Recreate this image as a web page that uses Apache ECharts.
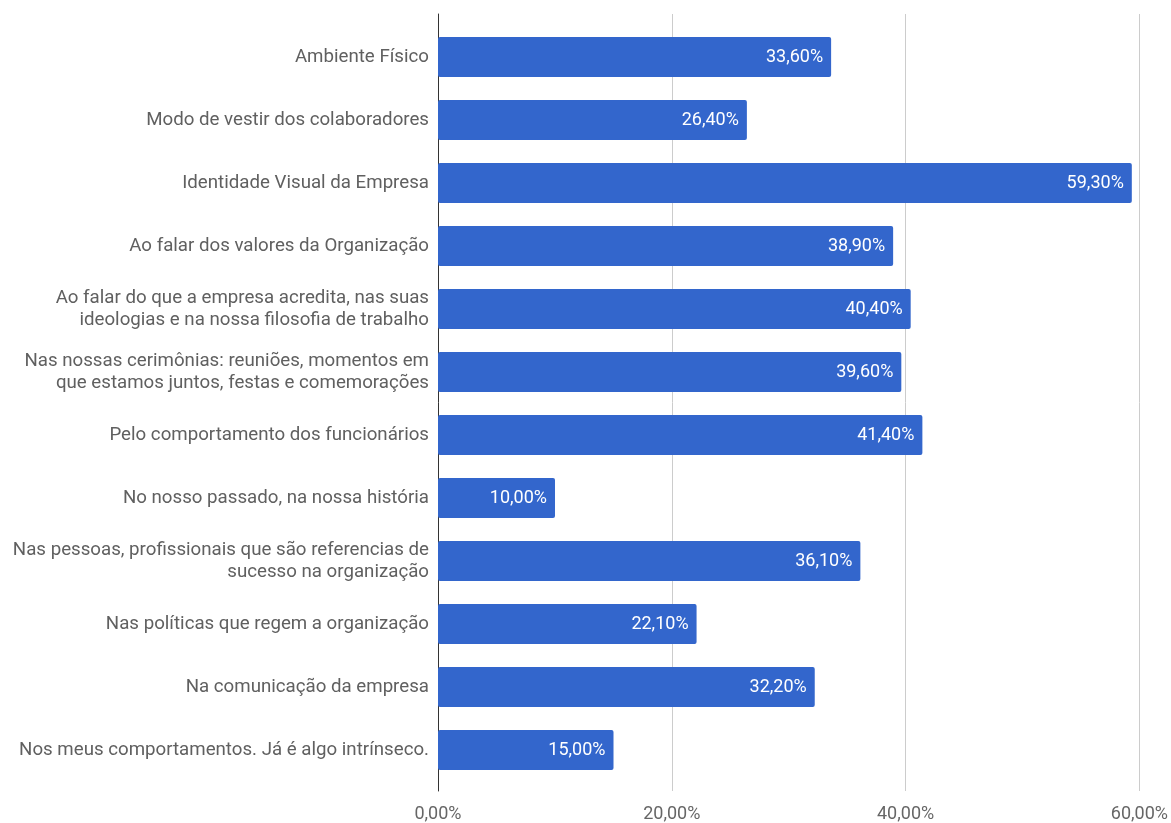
<!DOCTYPE html>
<html>
<head>
<meta charset="utf-8">
<script src="https://cdn.jsdelivr.net/npm/echarts@6/dist/echarts.min.js"></script>
<style>
  html, body { margin: 0; padding: 0; background: #fff; }
  #chart { width: 1171px; height: 823px; }
</style>
</head>
<body>
<div id="chart"></div>
<script>
// Categories, top to bottom
const categories = [
  'Ambiente Físico',
  'Modo de vestir dos colaboradores',
  'Identidade Visual da Empresa',
  'Ao falar dos valores da Organização',
  'Ao falar do que a empresa acredita, nas suas\nideologias e na nossa filosofia de trabalho',
  'Nas nossas cerimônias: reuniões, momentos em\nque estamos juntos, festas e comemorações',
  'Pelo comportamento dos funcionários',
  'No nosso passado, na nossa história',
  'Nas pessoas, profissionais que são referencias de\nsucesso na organização',
  'Nas políticas que regem a organização',
  'Na comunicação da empresa',
  'Nos meus comportamentos. Já é algo intrínseco.'
];

// Share of answers (%)
const values = [33.6, 26.4, 59.3, 38.9, 40.4, 39.6, 41.4, 10.0, 36.1, 22.1, 32.2, 15.0];

// X axis ticks (%)
const xTicks = [0, 20, 40, 60];

const fmt = v => v.toFixed(2).replace('.', ',') + '%';

const chart = echarts.init(document.getElementById('chart'));
const font = 'Roboto, sans-serif';
const left = 438, right = 31;

chart.setOption({
  backgroundColor: '#ffffff',
  animation: false,
  grid: [
    // frame: axis, gridlines and tick labels
    { left: left, right: right, top: 14, bottom: 30 },
    // bars
    { left: left, right: right, top: 25.5, bottom: 41.5 }
  ],
  xAxis: [
    {
      gridIndex: 0, type: 'value', min: xTicks[0], max: xTicks[xTicks.length - 1], interval: 20,
      axisLine: { show: false }, axisTick: { show: false },
      splitLine: { show: true, lineStyle: { color: '#cccccc', width: 1 } },
      axisLabel: {
        show: true, color: '#666666', fontFamily: font, fontSize: 18, margin: 14,
        formatter: v => fmt(v)
      }
    },
    {
      gridIndex: 1, type: 'value', min: xTicks[0], max: xTicks[xTicks.length - 1],
      show: false
    }
  ],
  yAxis: [
    {
      gridIndex: 0, type: 'value', min: 0, max: 1,
      axisLine: { show: true, lineStyle: { color: '#333333', width: 1 } },
      axisTick: { show: false }, axisLabel: { show: false }, splitLine: { show: false }
    },
    {
      gridIndex: 1, type: 'category', data: categories, inverse: true,
      axisLine: { show: false }, axisTick: { show: false }, splitLine: { show: false },
      axisLabel: {
        color: '#606060', fontFamily: font, fontSize: 18.7, margin: 9,
        lineHeight: 22, align: 'right', padding: [3, 0, 0, 0]
      }
    }
  ],
  series: [{
    type: 'bar',
    xAxisIndex: 1, yAxisIndex: 1,
    data: values,
    barWidth: 40,
    itemStyle: { color: '#3366cc', borderRadius: 2 },
    label: {
      show: true, position: 'insideRight', distance: 8,
      color: '#ffffff', fontFamily: font, fontSize: 18,
      formatter: p => fmt(p.value)
    }
  }]
});
</script>
</body>
</html>
